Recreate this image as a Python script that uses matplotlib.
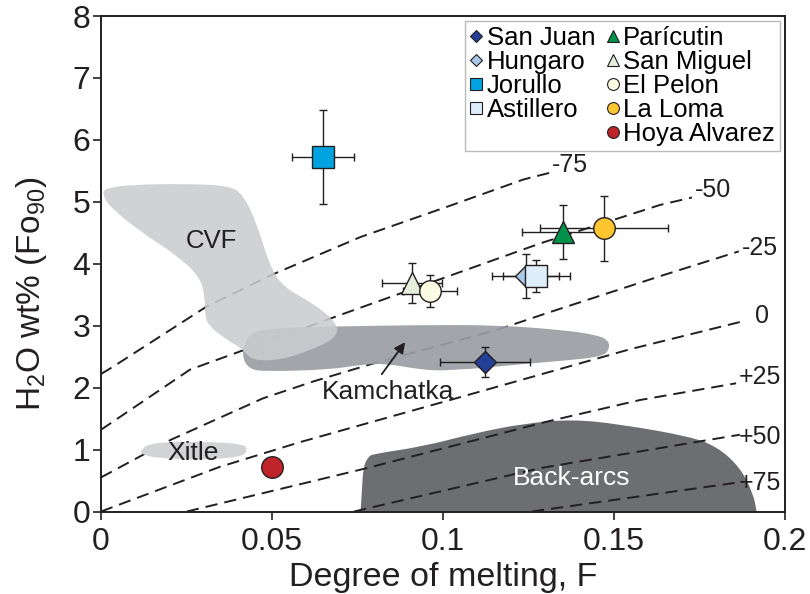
import numpy as np
import matplotlib
matplotlib.use('Agg')
import matplotlib.pyplot as plt
from matplotlib.path import Path
from matplotlib.patches import PathPatch
from matplotlib.lines import Line2D

plt.rcParams['font.family'] = ['Liberation Sans', 'DejaVu Sans']
plt.rcParams['mathtext.fontset'] = 'custom'
plt.rcParams['mathtext.rm'] = 'Liberation Sans'
plt.rcParams['mathtext.it'] = 'Liberation Sans:italic'

# ---------------- data ----------------
names = ['San Juan', 'Hungaro', 'Jorullo', 'Astillero', 'Parícutin',
         'San Miguel', 'El Pelon', 'La Loma', 'Hoya Alvarez']
melt_F = [0.1123, 0.1242, 0.0649, 0.1272, 0.1352, 0.0910, 0.0962, 0.1471, 0.0500]
h2o = [2.41, 3.80, 5.73, 3.80, 4.51, 3.69, 3.56, 4.57, 0.72]
F_err = [0.0132, 0.0098, 0.0091, 0.0098, 0.0122, 0.0088, 0.0078, 0.0187, 0.0]
h2o_err = [0.245, 0.355, 0.76, 0.255, 0.435, 0.325, 0.265, 0.52, 0.0]
markers = ['D', 'D', 's', 's', '^', '^', 'o', 'o', 'o']
colors = ['#233f96', '#a9c7e6', '#00a3e0', '#ddeefa', '#00924a',
          '#e4eedb', '#fcfbe3', '#fdc530', '#c0242b']

# isotherm curves (deltaT labels)
iso_labels = ['-75', '-50', '-25', '0', '+25', '+50', '+75']
iso_m75_F = [0, 0.0036, 0.0309, 0.0499, 0.0758, 0.1012, 0.1235, 0.1313]
iso_m75_H = [2.22, 2.34, 3.31, 3.82, 4.43, 4.92, 5.36, 5.47]
iso_m50_F = [0, 0.026, 0.0728, 0.1285, 0.1635, 0.1728]
iso_m50_H = [1.32, 2.29, 3.23, 4.33, 4.95, 5.07]
iso_m25_F = [0, 0.0205, 0.0475, 0.0621, 0.0796, 0.1157, 0.1313, 0.1635, 0.1865]
iso_m25_H = [0.55, 1.16, 1.83, 2.10, 2.39, 2.93, 3.22, 3.80, 4.20]
iso_0_F = [0, 0.0347, 0.0582, 0.104, 0.1547, 0.1876]
iso_0_H = [0, 0.72, 1.12, 1.83, 2.62, 3.07]
iso_p25_F = [0.0251, 0.0514, 0.0777, 0.1303, 0.1576, 0.1857]
iso_p25_H = [0, 0.35, 0.70, 1.45, 1.80, 2.07]
iso_p50_F = [0.074, 0.1284, 0.1868]
iso_p50_H = [0, 0.70, 1.24]
iso_p75_F = [0.126, 0.1877]
iso_p75_H = [0, 0.48]
iso_label_F = [0.1371, 0.179, 0.1927, 0.1932, 0.1927, 0.1927, 0.1927]
iso_label_H = [5.60, 5.19, 4.25, 3.15, 2.17, 1.21, 0.46]

# field outlines
cvf_F = [0.0007, 0.010, 0.025, 0.0377, 0.0416, 0.0455, 0.0494, 0.0533, 0.060, 0.0655,
         0.0694, 0.0685, 0.0621, 0.0523, 0.0440, 0.0416, 0.0360, 0.0315, 0.0304,
         0.0304, 0.0289, 0.0221, 0.0114, 0.0026, 0.0007]
cvf_H = [5.22, 5.28, 5.29, 5.26, 5.11, 4.66, 3.95, 3.63, 3.42, 3.22,
         2.99, 2.80, 2.62, 2.44, 2.44, 2.62, 2.80, 3.00, 3.15,
         3.47, 3.79, 4.14, 4.52, 4.92, 5.09]
kam_F = [0.0416, 0.0436, 0.0494, 0.0699, 0.0933, 0.1157, 0.1352, 0.1449, 0.1482,
         0.1488, 0.1469, 0.1342, 0.1254, 0.1020, 0.0933, 0.0835, 0.0757, 0.0670,
         0.0475, 0.0436, 0.0415]
kam_H = [2.66, 2.88, 2.96, 2.99, 3.01, 3.01, 2.93, 2.85, 2.77,
         2.64, 2.50, 2.43, 2.39, 2.27, 2.29, 2.39, 2.37, 2.29,
         2.26, 2.30, 2.45]
xit_F = [0.0114, 0.0143, 0.029, 0.0424, 0.0427, 0.0406, 0.029, 0.0173, 0.0123]
xit_H = [0.98, 1.11, 1.13, 1.09, 0.96, 0.88, 0.83, 0.86, 0.91]
ba_F = [0.0759, 0.0759, 0.0763, 0.0767, 0.0781, 0.0796, 0.0942, 0.1089, 0.1235,
        0.1381, 0.1527, 0.1722, 0.1800, 0.1868, 0.1907, 0.1917, 0.1917]
ba_H = [0, 0, 0.35, 0.72, 0.88, 0.93, 1.05, 1.26, 1.42,
        1.49, 1.40, 1.21, 1.05, 0.72, 0.29, 0, 0]

x_ticks = [0, 0.05, 0.1, 0.15, 0.2]
x_ticklabels = ['0', '0.05', '0.1', '0.15', '0.2']
y_ticks = [0, 1, 2, 3, 4, 5, 6, 7, 8]


def smooth_path(F, H):
    pts = np.column_stack([F, H])
    mids = (pts + np.roll(pts, -1, axis=0)) / 2
    verts = [mids[-1]]
    codes = [Path.MOVETO]
    for i in range(len(pts)):
        verts += [pts[i], mids[i]]
        codes += [Path.CURVE3, Path.CURVE3]
    verts.append(mids[-1])
    codes.append(Path.CLOSEPOLY)
    return Path(verts, codes)


INK = '#231f20'
fig = plt.figure(figsize=(8.1, 5.94), dpi=100)
ax = fig.add_axes([101 / 810, 1 - 511.5 / 594, 684 / 810, 495.5 / 594])
ax.set_xlim(0, 0.2)
ax.set_ylim(0, 8)

ax.add_patch(PathPatch(smooth_path(ba_F, ba_H), facecolor='#6d6e71', edgecolor='none', zorder=1))

iso_curves = [(iso_m75_F, iso_m75_H), (iso_m50_F, iso_m50_H), (iso_m25_F, iso_m25_H),
              (iso_0_F, iso_0_H), (iso_p25_F, iso_p25_H), (iso_p50_F, iso_p50_H),
              (iso_p75_F, iso_p75_H)]
for (F, H), lab, lx, ly in zip(iso_curves, iso_labels, iso_label_F, iso_label_H):
    ax.plot(F, H, color=INK, lw=1.4, dashes=(6.3, 3.6), zorder=2)
    ax.text(lx, ly, lab, fontsize=18, ha='center', va='center', color=INK, zorder=7)

ax.add_patch(PathPatch(smooth_path(kam_F, kam_H), facecolor='#9b9ea3', edgecolor='none',
                       alpha=0.93, zorder=3))
ax.add_patch(PathPatch(smooth_path(xit_F, xit_H), facecolor='#d1d3d4', edgecolor='none', zorder=3))
ax.add_patch(PathPatch(smooth_path(cvf_F, cvf_H), facecolor='#cbcccf', edgecolor='none',
                       alpha=0.88, zorder=4))

ax.text(0.0324, 4.36, 'CVF', fontsize=18.5, ha='center', va='center', color=INK, zorder=7)
ax.text(0.0839, 1.93, 'Kamchatka', fontsize=19, ha='center', va='center', color=INK, zorder=7)
ax.annotate('', xy=(0.0894, 2.77), xytext=(0.0816, 2.18),
            arrowprops=dict(arrowstyle='-|>', color=INK, lw=1.3, mutation_scale=16),
            zorder=7)
ax.text(0.027, 0.94, 'Xitle', fontsize=19, ha='center', va='center', color=INK, zorder=7)
ax.text(0.1376, 0.54, 'Back-arcs', fontsize=19, ha='center', va='center', color='white', zorder=7)

for i in range(len(names)):
    if F_err[i] > 0 or h2o_err[i] > 0:
        ax.errorbar(melt_F[i], h2o[i], xerr=F_err[i], yerr=h2o_err[i], fmt='none',
                    ecolor=INK, elinewidth=1.0, capsize=3.0, capthick=1.0, zorder=5)

sizes = {'D': 11.5, 's': 15.5, '^': 15.5, 'o': 15.5}
handles = []
for i in range(len(names)):
    ax.plot(melt_F[i], h2o[i], linestyle='none', marker=markers[i], ms=sizes[markers[i]],
            mfc=colors[i], mec=INK, mew=1.0, zorder=6)
    handles.append(Line2D([], [], linestyle='none', marker=markers[i],
                          ms=sizes[markers[i]] * 0.55, mfc=colors[i], mec=INK, mew=0.8,
                          label=names[i]))

blank = Line2D([], [], linestyle='none', marker=None, label=' ')
order = handles[:4] + [blank] + handles[4:]
leg = ax.legend(handles=order, ncol=2, loc='upper right', bbox_to_anchor=(0.993, 0.99),
                borderaxespad=0, fontsize=18.5, frameon=True, fancybox=False,
                handlelength=0.5, handletextpad=0.15, columnspacing=0.45,
                labelspacing=0.0, borderpad=0.2)
leg.get_frame().set_edgecolor('#a7a9ac')
leg.get_frame().set_linewidth(1.0)
leg.set_zorder(8)

ax.set_xticks(x_ticks)
ax.set_xticklabels(x_ticklabels)
ax.set_yticks(y_ticks)
ax.tick_params(direction='out', length=5.5, width=1.2, labelsize=23, colors=INK)
ax.tick_params(axis='x', pad=6)
ax.tick_params(axis='y', pad=2)
for s in ax.spines.values():
    s.set_linewidth(1.4)
    s.set_color(INK)

ax.set_xlabel('Degree of melting, F', fontsize=24.5, color=INK, labelpad=3)
ax.set_ylabel('H$_2$O wt% (Fo$_{90}$)', fontsize=24, color=INK)
ax.yaxis.set_label_coords(-0.076, 0.44)

fig.savefig('out.png', dpi=100)
